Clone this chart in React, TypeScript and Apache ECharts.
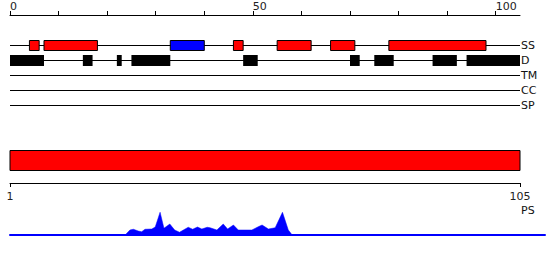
import React, { useEffect, useRef } from "react";
import * as echarts from "echarts";

const tracks = ["SS", "D", "TM", "CC", "SP"];
const helixSegments = [[4, 6], [7, 18], [46, 48], [55, 62], [66, 71], [78, 98]];
const strandSegments = [[33, 40]];
const disorderSegments = [[0, 7], [15, 17], [22, 23], [25, 33], [48, 51], [70, 72], [75, 79], [87, 92], [94, 105]];
const domainRange = [1, 105];
const topTicks = [0, 10, 20, 30, 40, 50, 60, 70, 80, 90, 100];
const topLabels = [0, 50, 100];
const bottomLabels = [1, 105];
const psPositions = [23.7, 24.7, 25.4, 26.4, 27.1, 27.8, 29.2, 29.9, 30.9, 31.7, 32.9, 33.9, 34.9, 35.7, 36.7, 37.6, 38.6, 39.5, 40.6, 41.2, 42.6, 43.9, 44.8, 46.0, 47.0, 49.8, 51.1, 51.9, 53.2, 54.6, 56.1, 57.3, 58.1];
const psValues = [0, 0.2, 0.23, 0.16, 0.13, 0.23, 0.24, 0.32, 0.91, 0.27, 0.44, 0.2, 0.11, 0.2, 0.31, 0.23, 0.32, 0.24, 0.31, 0.29, 0.2, 0.44, 0.24, 0.4, 0.2, 0.2, 0.33, 0.4, 0.24, 0.29, 0.91, 0.2, 0];

const FONT = "DejaVu Sans";

export default function App() {
  const ref = useRef<HTMLDivElement>(null);
  useEffect(() => {
    if (!ref.current) return;
    const chart = echarts.init(ref.current, null, { renderer: "svg" });
    const boxData: any[] = [];
    helixSegments.forEach((s) => boxData.push([s[0], s[1], 0, 0]));
    strandSegments.forEach((s) => boxData.push([s[0], s[1], 0, 1]));
    disorderSegments.forEach((s) => boxData.push([s[0], s[1], 1, 2]));
    const lineData = tracks.map((_, i) => [0, 105, i]);

    chart.setOption({
      animation: false,
      grid: [
        { left: 10, top: 38, width: 510, height: 75 },
        { left: 10, top: 150, width: 510, height: 21 },
        { left: 10, top: 210, width: 535, height: 25 },
      ],
      xAxis: [
        {
          gridIndex: 0, type: "value", min: 0, max: 105, position: "top", offset: 23,
          axisLine: { show: true, lineStyle: { color: "#000", width: 1 } },
          axisTick: { show: true, length: 4, customValues: topTicks, lineStyle: { color: "#000" } },
          axisLabel: { show: true, customValues: topLabels, align: "left", margin: 3, fontSize: 11, fontFamily: FONT, color: "#222" },
          splitLine: { show: false },
        },
        {
          gridIndex: 1, type: "value", min: 1, max: 105, position: "bottom", offset: 12,
          axisLine: { show: true, lineStyle: { color: "#000", width: 1 } },
          axisTick: { show: true, length: 4, customValues: bottomLabels, lineStyle: { color: "#000" } },
          axisLabel: { show: true, customValues: bottomLabels, margin: 8, fontSize: 11, fontFamily: FONT, color: "#222" },
          splitLine: { show: false },
        },
        {
          gridIndex: 2, type: "value", min: 0, max: 110.15,
          axisLine: { show: true, onZero: false, lineStyle: { color: "#0000ff", width: 2 } },
          axisTick: { show: false }, axisLabel: { show: false }, splitLine: { show: false },
        },
      ],
      yAxis: [
        {
          gridIndex: 0, type: "category", data: tracks, inverse: true, position: "right",
          axisLine: { show: false }, axisTick: { show: false },
          axisLabel: { show: true, margin: 1, fontSize: 11, fontFamily: FONT, color: "#111" },
          splitLine: { show: false },
        },
        {
          gridIndex: 1, type: "category", data: ["domain"],
          axisLine: { show: false }, axisTick: { show: false }, axisLabel: { show: false }, splitLine: { show: false },
        },
        {
          gridIndex: 2, type: "value", min: 0, max: 1,
          axisLine: { show: false }, axisTick: { show: false }, axisLabel: { show: false }, splitLine: { show: false },
        },
      ],
      series: [
        {
          type: "custom", xAxisIndex: 0, yAxisIndex: 0, z: 1,
          encode: { x: [0, 1], y: 2 },
          data: lineData,
          renderItem: (params: any, api: any) => {
            const s = api.coord([api.value(0), api.value(2)]);
            const e = api.coord([api.value(1), api.value(2)]);
            return { type: "line", shape: { x1: s[0], y1: s[1], x2: e[0], y2: e[1] }, style: { stroke: "#000", lineWidth: 1 } };
          },
        },
        {
          type: "custom", xAxisIndex: 0, yAxisIndex: 0, z: 2,
          encode: { x: [0, 1], y: 2 },
          data: boxData,
          renderItem: (params: any, api: any) => {
            const s = api.coord([api.value(0), api.value(2)]);
            const e = api.coord([api.value(1), api.value(2)]);
            const kind = api.value(3);
            if (kind === 2) {
              return { type: "rect", shape: { x: s[0], y: s[1] - 5.5, width: e[0] - s[0], height: 11 }, style: { fill: "#000" } };
            }
            return {
              type: "rect",
              shape: { x: s[0], y: s[1] - 5, width: e[0] - s[0], height: 10 },
              style: { fill: kind === 1 ? "#0000ff" : "#ff0000", stroke: "#000", lineWidth: 1 },
            };
          },
        },
        {
          type: "custom", xAxisIndex: 1, yAxisIndex: 1,
          encode: { x: [0, 1], y: 2 },
          data: [[domainRange[0], domainRange[1], 0]],
          renderItem: (params: any, api: any) => {
            const s = api.coord([api.value(0), api.value(2)]);
            const e = api.coord([api.value(1), api.value(2)]);
            return { type: "rect", shape: { x: s[0], y: s[1] - 10, width: e[0] - s[0], height: 20 }, style: { fill: "#ff0000", stroke: "#000", lineWidth: 1 } };
          },
        },
        {
          type: "line", xAxisIndex: 2, yAxisIndex: 2, symbol: "none",
          data: psPositions.map((p, i) => [p, psValues[i]]),
          lineStyle: { width: 0.5, color: "#0000ff" },
          areaStyle: { color: "#0000ff", opacity: 1 },
        },
      ],
      graphic: [
        { type: "text", left: 521, top: 205, style: { text: "PS", fontSize: 11, fontFamily: FONT, fill: "#111" } },
      ],
    });
    return () => chart.dispose();
  }, []);
  return <div ref={ref} style={{ position: "absolute", left: 0, top: 0, width: 550, height: 260 }} />;
}
